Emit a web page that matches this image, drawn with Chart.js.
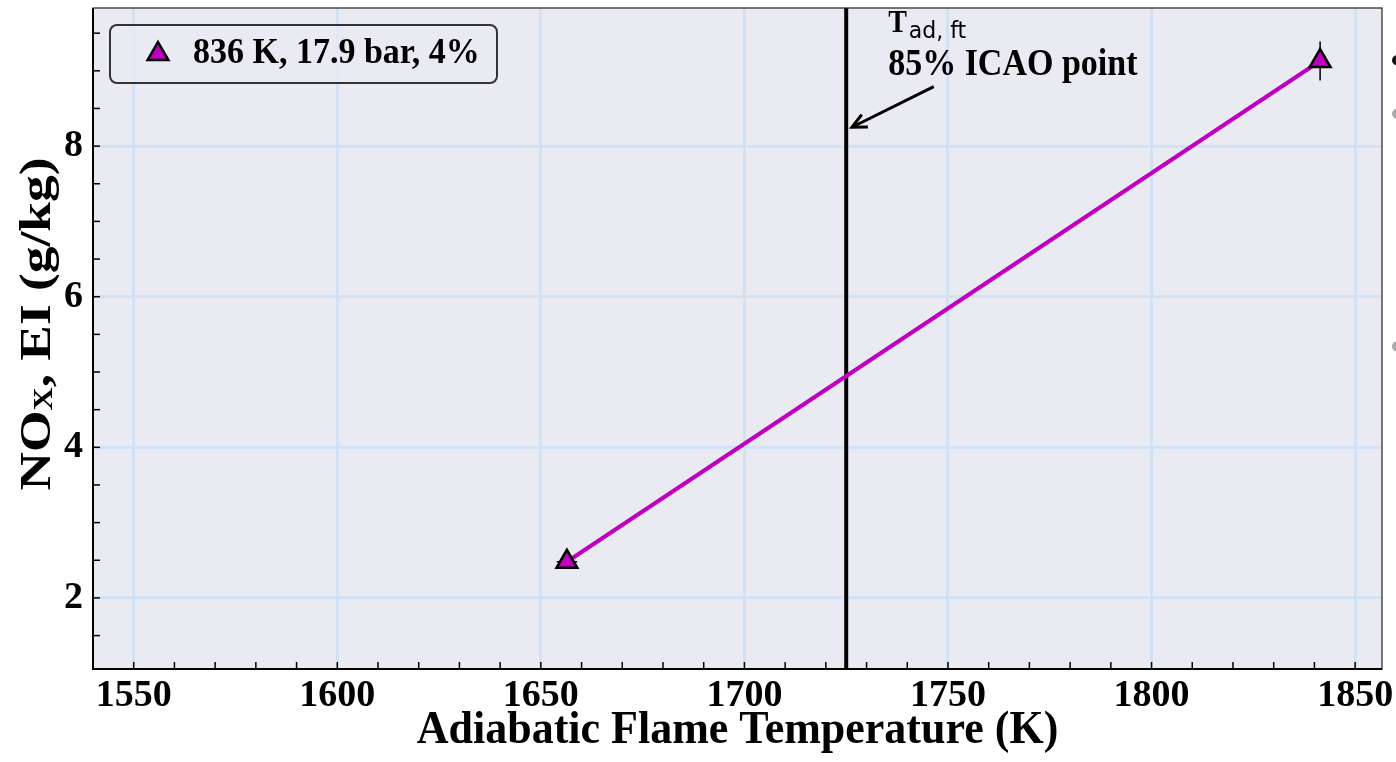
<!DOCTYPE html>
<html>
<head>
<meta charset="utf-8">
<script src="https://cdn.jsdelivr.net/npm/chart.js@4.4.0/dist/chart.umd.min.js"></script>
<style>
  html, body { margin: 0; padding: 0; background: #fff; }
  #wrap { width: 1396px; height: 762px; }
</style>
</head>
<body>
<div id="wrap"><canvas id="grafico"></canvas></div>
<script>
// datos
const tempK = [1656.4, 1841.4];
const noxEI = [2.48, 9.13];
const noxErr = [0, 0.26];
const tempErr = [2.5, 0];
const serieLabel = "836 K, 17.9 bar, 4%";
const xMajor = [1550, 1600, 1650, 1700, 1750, 1800, 1850];
const yMajor = [2, 4, 6, 8];
const tRef = 1725;
const notaTitulo = "85% ICAO point";

const SERIF = "'Liberation Serif', 'Times New Roman', serif";
const SANS = "'DejaVu Sans', sans-serif";
const magenta = "#bf00bf";
const gridColor = "#d2e2f4";

function pasos(min, max, step) {
  const out = [];
  for (let v = Math.ceil(min / step) * step; v <= max + 1e-9; v += step) out.push(+v.toFixed(4));
  return out;
}

// texto algo estirado en vertical, como en la figura original
function texto(ctx, str, x, y, font, sy) {
  ctx.save();
  ctx.translate(x, y);
  ctx.scale(1, sy || 1);
  ctx.font = font;
  ctx.fillText(str, 0, 0);
  ctx.restore();
}

const decor = {
  id: "decor",
  beforeDraw(chart) {
    const { ctx, chartArea: a } = chart;
    ctx.save();
    ctx.fillStyle = "#fff";
    ctx.fillRect(0, 0, chart.width, chart.height);
    ctx.fillStyle = "#eaeaf2";
    ctx.fillRect(a.left, a.top, a.right - a.left, a.bottom - a.top);
    ctx.restore();
  },
  beforeDatasetsDraw(chart) {
    const { ctx, chartArea: a, scales: { x, y } } = chart;
    ctx.save();
    // linea vertical T_ad
    ctx.strokeStyle = "#000";
    ctx.lineWidth = 4;
    ctx.beginPath();
    ctx.moveTo(x.getPixelForValue(tRef), a.top);
    ctx.lineTo(x.getPixelForValue(tRef), a.bottom);
    ctx.stroke();
    // barras de error
    ctx.lineWidth = 1.5;
    tempK.forEach((t, i) => {
      const px = x.getPixelForValue(t), py = y.getPixelForValue(noxEI[i]);
      if (noxErr[i] > 0) {
        ctx.beginPath();
        ctx.moveTo(px, y.getPixelForValue(noxEI[i] - noxErr[i]));
        ctx.lineTo(px, y.getPixelForValue(noxEI[i] + noxErr[i]));
        ctx.stroke();
      }
      if (tempErr[i] > 0) {
        ctx.beginPath();
        ctx.moveTo(x.getPixelForValue(t - tempErr[i]), py);
        ctx.lineTo(x.getPixelForValue(t + tempErr[i]), py);
        ctx.stroke();
      }
    });
    ctx.restore();
  },
  afterDraw(chart) {
    const { ctx, chartArea: a, scales: { x, y } } = chart;
    ctx.save();
    // marcas hacia adentro
    ctx.strokeStyle = "#000";
    ctx.lineWidth = 1.5;
    x.ticks.forEach(t => {
      const px = x.getPixelForValue(t.value);
      ctx.beginPath(); ctx.moveTo(px, a.bottom); ctx.lineTo(px, a.bottom - 7); ctx.stroke();
    });
    y.ticks.forEach(t => {
      const py = y.getPixelForValue(t.value);
      ctx.beginPath(); ctx.moveTo(a.left, py); ctx.lineTo(a.left + 7, py); ctx.stroke();
    });
    // marco
    ctx.lineWidth = 1.2;
    ctx.strokeStyle = "#222";
    ctx.strokeRect(a.left, a.top, a.right - a.left, a.bottom - a.top);
    ctx.lineWidth = 2;
    ctx.strokeStyle = "#000";
    ctx.beginPath();
    ctx.moveTo(a.left, a.top); ctx.lineTo(a.left, a.bottom); ctx.lineTo(a.right, a.bottom);
    ctx.stroke();

    // leyenda
    const lx = a.left + 17, ly = a.top + 17;
    ctx.beginPath();
    ctx.roundRect(lx, ly, 387, 58, 7);
    ctx.fillStyle = "rgba(234,234,242,0.85)";
    ctx.fill();
    ctx.strokeStyle = "#333";
    ctx.lineWidth = 2;
    ctx.stroke();
    ctx.fillStyle = magenta;
    ctx.strokeStyle = "#000";
    ctx.lineWidth = 2.5;
    Chart.helpers.drawPoint(ctx, { pointStyle: "triangle", radius: 12, borderWidth: 2.5, rotation: 0 }, lx + 48, ly + 29);
    ctx.fillStyle = "#000";
    ctx.textAlign = "left";
    ctx.textBaseline = "alphabetic";
    texto(ctx, serieLabel, lx + 83, ly + 38, "bold 34px " + SERIF, 1.08);

    // anotacion
    const ax = x.getPixelForValue(1735.3);
    ctx.font = "bold 28px " + SERIF;
    const tw = ctx.measureText("T").width;
    texto(ctx, "T", ax, y.getPixelForValue(9.515), "bold 28px " + SERIF, 1.1);
    texto(ctx, "ad, ft", ax + tw + 2, y.getPixelForValue(9.435), "22px " + SANS, 1.05);
    texto(ctx, notaTitulo, ax, y.getPixelForValue(8.94), "bold 34px " + SERIF, 1.1);
    // flecha
    const x0 = x.getPixelForValue(1746.5), y0 = y.getPixelForValue(8.79);
    const x1 = x.getPixelForValue(1726.4), y1 = y.getPixelForValue(8.25);
    ctx.lineWidth = 3;
    ctx.beginPath(); ctx.moveTo(x0, y0); ctx.lineTo(x1, y1); ctx.stroke();
    const ang = Math.atan2(y1 - y0, x1 - x0);
    ctx.beginPath();
    ctx.moveTo(x1 - 16 * Math.cos(ang - 0.45), y1 - 16 * Math.sin(ang - 0.45));
    ctx.lineTo(x1, y1);
    ctx.lineTo(x1 - 16 * Math.cos(ang + 0.45), y1 - 16 * Math.sin(ang + 0.45));
    ctx.stroke();

    // puntos cortados en el borde derecho
    [[9.14, "#111"], [8.43, "#aaa"], [5.34, "#aaa"]].forEach(([v, c]) => {
      ctx.fillStyle = c;
      ctx.beginPath();
      ctx.arc(chart.width + 1, y.getPixelForValue(v), 5, 0, Math.PI * 2);
      ctx.fill();
    });

    // titulos de ejes
    ctx.fillStyle = "#000";
    ctx.textAlign = "center";
    texto(ctx, "Adiabatic Flame Temperature (K)", (a.left + a.right) / 2, 743, "bold 44px " + SERIF, 1.05);

    ctx.save();
    ctx.translate(50, 324);
    ctx.rotate(-Math.PI / 2);
    ctx.textAlign = "left";
    const p1 = "NO", p2 = "X", p3 = ", EI (g/kg)";
    const fBig = "bold 45px " + SERIF, fSub = "bold 27px " + SERIF;
    ctx.font = fBig;
    const w1 = ctx.measureText(p1).width, w3 = ctx.measureText(p3).width;
    ctx.font = fSub;
    const w2 = ctx.measureText(p2).width;
    const total = w1 + w2 + w3;
    ctx.scale(333 / total, 1);
    let cx = -total / 2;
    ctx.font = fBig;
    ctx.fillText(p1, cx, 0);
    ctx.font = fSub;
    ctx.fillText(p2, cx + w1, 2);
    ctx.font = fBig;
    ctx.fillText(p3, cx + w1 + w2, 0);
    ctx.restore();

    ctx.restore();
  }
};

new Chart(document.getElementById("grafico"), {
  type: "line",
  data: {
    datasets: [{
      label: serieLabel,
      data: tempK.map((t, i) => ({ x: t, y: noxEI[i] })),
      borderColor: magenta,
      borderWidth: 4,
      pointStyle: "triangle",
      pointRadius: 12,
      pointHoverRadius: 12,
      pointBackgroundColor: magenta,
      pointBorderColor: "#000",
      pointBorderWidth: 2.5
    }]
  },
  options: {
    responsive: true,
    maintainAspectRatio: false,
    animation: false,
    events: [],
    layout: { autoPadding: false, padding: { top: 8, right: 14, left: 0, bottom: 0 } },
    plugins: { legend: { display: false }, tooltip: { enabled: false } },
    scales: {
      x: {
        type: "linear",
        min: 1540,
        max: 1856.6,
        afterBuildTicks: s => { s.ticks = pasos(1540, 1856.6, 10).map(v => ({ value: v })); },
        afterFit: s => { s.height = 93; s.paddingLeft = 0; s.paddingRight = 0; s.paddingTop = 0; s.paddingBottom = 0; },
        ticks: {
          autoSkip: false,
          maxRotation: 0,
          padding: 4,
          color: "#000",
          font: { family: SERIF, size: 38, weight: "bold" },
          callback: v => xMajor.includes(v) ? String(v) : ""
        },
        grid: {
          drawTicks: false,
          lineWidth: 3,
          color: c => (c.tick && xMajor.includes(c.tick.value)) ? gridColor : "transparent"
        },
        border: { display: false }
      },
      y: {
        type: "linear",
        min: 1.056,
        max: 9.834,
        afterBuildTicks: s => { s.ticks = pasos(1.056, 9.834, 0.5).map(v => ({ value: v })); },
        afterFit: s => { s.width = 93; s.paddingTop = 0; s.paddingBottom = 0; s.paddingLeft = 0; s.paddingRight = 0; },
        ticks: {
          autoSkip: false,
          padding: 10,
          color: "#000",
          font: { family: SERIF, size: 38, weight: "bold" },
          callback: v => yMajor.includes(v) ? String(v) : ""
        },
        grid: {
          drawTicks: false,
          lineWidth: 3,
          color: c => (c.tick && yMajor.includes(c.tick.value)) ? gridColor : "transparent"
        },
        border: { display: false }
      }
    }
  },
  plugins: [decor]
});
</script>
</body>
</html>
